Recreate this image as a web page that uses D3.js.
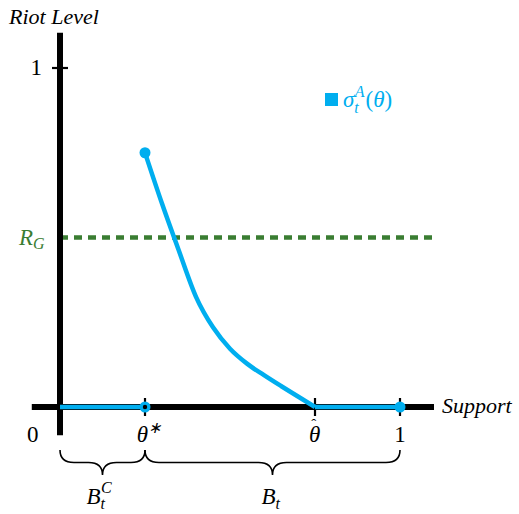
<!DOCTYPE html>
<html>
<head>
<meta charset="utf-8">
<script src="https://cdn.jsdelivr.net/npm/d3@7"></script>
</head>
<body style="margin:0">
<script>
// Riot level as a function of support
const supportValues = [0.25, 0.30, 0.35, 0.40, 0.45, 0.50, 0.55, 0.60, 0.65, 0.70, 0.75];
const riotValues    = [0.75, 0.60, 0.46, 0.325, 0.235, 0.172, 0.128, 0.094, 0.062, 0.031, 0.0];

const thetaStar = 0.25;
const thetaHat = 0.75;
const riotThreshold = 0.5;

const xTickValues = [0.25, 0.75, 1];
const xTickLabels = ["θ", "θ", "1"];
const yTickValues = [1];
const yTickLabels = ["1"];

const W = 519, H = 514;
const blue = "#00aeef";
const green = "#3a7d32";

const svg = d3.select("body").append("svg")
  .attr("width", W).attr("height", H);

// text helper: serif face given as an inline style
function txt(parent, size, italic) {
  return parent.append("text")
    .attr("style", `font-family: 'Liberation Serif', serif; font-size: ${size}px; font-style: ${italic ? "italic" : "normal"};`);
}

const x = d3.scaleLinear().domain([0, 1]).range([60, 400]);
const y = d3.scaleLinear().domain([0, 1]).range([407, 68]);

// Threshold line R_G
svg.append("line")
  .attr("x1", x(0)).attr("x2", x(1.1))
  .attr("y1", y(riotThreshold)).attr("y2", y(riotThreshold))
  .attr("stroke", green).attr("stroke-width", 4.5)
  .attr("stroke-dasharray", "8,6");

// Axes
svg.append("line")
  .attr("x1", x(-0.083)).attr("x2", x(1.1))
  .attr("y1", y(0)).attr("y2", y(0))
  .attr("stroke", "#000").attr("stroke-width", 6);
svg.append("line")
  .attr("x1", x(0)).attr("x2", x(0))
  .attr("y1", y(-0.083)).attr("y2", y(1.104))
  .attr("stroke", "#000").attr("stroke-width", 6);

// Ticks
svg.selectAll(".xtick").data(xTickValues).enter().append("line")
  .attr("x1", d => x(d)).attr("x2", d => x(d))
  .attr("y1", y(0) - 9).attr("y2", y(0) + 9)
  .attr("stroke", "#000").attr("stroke-width", 2.2);
svg.selectAll(".ytick").data(yTickValues).enter().append("line")
  .attr("x1", x(0) - 8).attr("x2", x(0) + 8)
  .attr("y1", d => y(d)).attr("y2", d => y(d))
  .attr("stroke", "#000").attr("stroke-width", 2.2);

// Blue strategy: zero segments and the decreasing curve
const line = d3.line()
  .x(d => x(d[0])).y(d => y(d[1]))
  .curve(d3.curveMonotoneX);

svg.append("line")
  .attr("x1", x(0)).attr("x2", x(thetaStar))
  .attr("y1", y(0)).attr("y2", y(0))
  .attr("stroke", blue).attr("stroke-width", 4.5);
svg.append("line")
  .attr("x1", x(thetaHat)).attr("x2", x(1))
  .attr("y1", y(0)).attr("y2", y(0))
  .attr("stroke", blue).attr("stroke-width", 4.5);

svg.append("path")
  .datum(supportValues.map((s, i) => [s, riotValues[i]]))
  .attr("d", line)
  .attr("fill", "none")
  .attr("stroke", blue).attr("stroke-width", 4.5)
  .attr("stroke-linejoin", "round");

// End points
svg.append("circle")
  .attr("cx", x(supportValues[0])).attr("cy", y(riotValues[0]))
  .attr("r", 5.5).attr("fill", blue);
svg.append("circle")
  .attr("cx", x(1)).attr("cy", y(0))
  .attr("r", 5.5).attr("fill", blue);
svg.append("circle")
  .attr("cx", x(thetaStar)).attr("cy", y(0))
  .attr("r", 5.5).attr("fill", blue);
svg.append("circle")
  .attr("cx", x(thetaStar)).attr("cy", y(0))
  .attr("r", 2.2).attr("fill", "#000");

// Tick labels
txt(svg, 23, false)
  .attr("x", x(-0.08)).attr("y", 442)
  .attr("text-anchor", "middle")
  .text("0");

xTickLabels.forEach((lab, i) => {
  if (i === 2) {
    txt(svg, 23, false)
      .attr("x", x(xTickValues[i])).attr("y", 442)
      .attr("text-anchor", "middle")
      .text(lab);
  } else if (i === 0) {
    const t = txt(svg, 23, true)
      .attr("x", x(xTickValues[i]) + 4).attr("y", 442)
      .attr("text-anchor", "middle");
    t.append("tspan").text(lab);
    t.append("tspan").attr("font-size", 16).attr("dy", -9).text("∗");
  } else {
    // theta with a hat accent, kept in one text element
    const t = txt(svg, 23, true)
      .attr("x", x(xTickValues[i]) - 6).attr("y", 442);
    t.append("tspan").text(lab);
    t.append("tspan").attr("font-size", 15).attr("font-style", "normal")
      .attr("dx", -9).attr("dy", -13).text("ˆ");
  }
});

yTickLabels.forEach((lab, i) => {
  txt(svg, 23, false)
    .attr("x", x(0) - 18).attr("y", y(yTickValues[i]) + 7)
    .attr("text-anchor", "end")
    .text(lab);
});

// R_G label
const rg = txt(svg, 23, true)
  .attr("x", 19).attr("y", y(riotThreshold) + 7)
  .attr("fill", green);
rg.append("tspan").text("R");
rg.append("tspan").attr("font-size", 16).attr("dy", 4).text("G");

// Axis titles
txt(svg, 22, true)
  .attr("x", 9).attr("y", 24)
  .text("Riot Level");
txt(svg, 22, true)
  .attr("x", 442).attr("y", 413)
  .text("Support");

// Legend
svg.append("rect")
  .attr("x", 325).attr("y", 93).attr("width", 13).attr("height", 13)
  .attr("fill", blue);
const lg = txt(svg, 23, false)
  .attr("x", 343).attr("y", 107)
  .attr("fill", blue);
lg.append("tspan").attr("font-style", "italic").text("σ");
lg.append("tspan").attr("font-style", "italic").attr("font-size", 16).attr("dy", 6).text("t");
lg.append("tspan").attr("font-style", "italic").attr("font-size", 16).attr("dx", -4).attr("dy", -16).text("A");
lg.append("tspan").attr("dy", 10).attr("dx", 1).text("(");
lg.append("tspan").attr("font-style", "italic").text("θ");
lg.append("tspan").text(")");

// Braces below the support axis
function brace(x1, x2, y0, h, r) {
  const mid = (x1 + x2) / 2;
  const ym = y0 + h / 2;
  return `M${x1},${y0}` +
    `Q${x1},${ym} ${x1 + r},${ym}` +
    `L${mid - r},${ym}` +
    `Q${mid},${ym} ${mid},${y0 + h}` +
    `Q${mid},${ym} ${mid + r},${ym}` +
    `L${x2 - r},${ym}` +
    `Q${x2},${ym} ${x2},${y0}`;
}
const braceSpans = [[0, thetaStar], [thetaStar, 1]];
svg.selectAll(".brace").data(braceSpans).enter().append("path")
  .attr("d", d => brace(x(d[0]), x(d[1]), 450, 25, 14))
  .attr("fill", "none").attr("stroke", "#000").attr("stroke-width", 1.6);

// Brace labels
const b1 = txt(svg, 23, true)
  .attr("x", (x(0) + x(thetaStar)) / 2 - 16).attr("y", 504);
b1.append("tspan").text("B");
b1.append("tspan").attr("font-size", 16).attr("dy", 5).text("t");
b1.append("tspan").attr("font-size", 16).attr("dx", -4).attr("dy", -16).text("C");

const b2 = txt(svg, 23, true)
  .attr("x", (x(thetaStar) + x(1)) / 2 - 11).attr("y", 504);
b2.append("tspan").text("B");
b2.append("tspan").attr("font-size", 16).attr("dy", 5).text("t");
</script>
</body>
</html>
